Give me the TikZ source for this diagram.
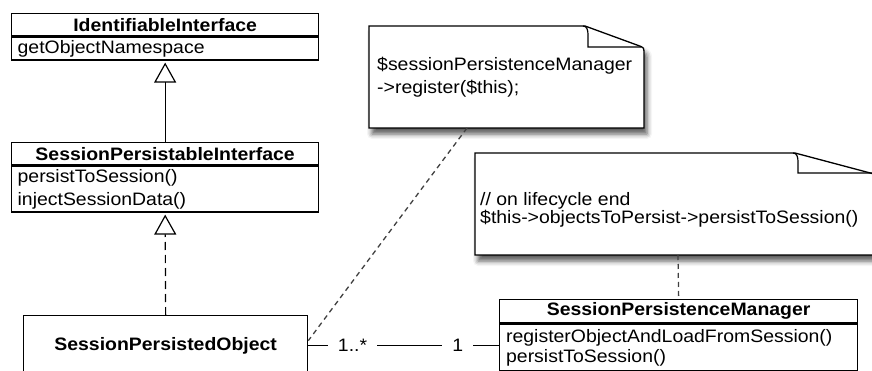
\documentclass[tikz,border=0pt]{standalone}
\usepackage{fontspec}
\setmainfont{Liberation Sans}[FakeStretch=1.08]
\usetikzlibrary{arrows.meta,shadows.blur}
\pgfdeclarelayer{background}
\pgfsetlayers{background,main}
\begin{document}
\begin{tikzpicture}[x=1pt,y=-1pt,
  every node/.style={font=\fontsize{18pt}{20pt}\selectfont},
  shad/.style={blur shadow={shadow xshift=3pt,shadow yshift=-6pt,shadow blur radius=5pt,shadow opacity=65}},
  hdr/.style={draw=black,line width=1.3pt,fill=white,rectangle,anchor=north west,inner sep=0pt,font=\fontsize{18pt}{20pt}\selectfont\bfseries},
  bdy/.style={draw=black,line width=1.3pt,fill=white,rectangle,anchor=north west,inner xsep=6pt,inner ysep=0pt,align=left},
  gen/.style={-{Triangle[open,length=20pt,width=22pt,line width=1.2pt]},line width=1.2pt,shorten >=2pt},
  notebox/.style={fill=white,draw=black,line width=1.3pt,shad},
  notetxt/.style={anchor=west,align=left,inner xsep=0pt},
  notelink/.style={line width=1.3pt,draw=black!75,dash pattern=on 5pt off 4pt},
  mult/.style={fill=white,inner xsep=10pt,inner ysep=1pt}
]
\useasboundingbox (0,0) rectangle (872,371);

% IdentifiableInterface
\node[hdr,minimum width=307pt,minimum height=22pt] (iih) at (11,13) {IdentifiableInterface};
\node[bdy,minimum width=307pt,minimum height=23pt,text width=295pt] (iib) at (iih.south west) {getObjectNamespace};

% SessionPersistableInterface
\node[hdr,minimum width=307pt,minimum height=22pt] (spih) at (11,142) {SessionPersistableInterface};
\node[bdy,minimum width=307pt,minimum height=46pt,text width=295pt,font=\fontsize{18pt}{23pt}\selectfont] (spib) at (spih.south west) {persistToSession()\\injectSessionData()};

% SessionPersistedObject
\node[draw=black,line width=1.3pt,fill=white,anchor=north west,minimum width=284pt,minimum height=60pt,font=\fontsize{18pt}{20pt}\selectfont\bfseries] (spo) at (23,315) {SessionPersistedObject};

% SessionPersistenceManager
\node[hdr,minimum width=358pt,minimum height=23pt] (spmh) at (499,299) {SessionPersistenceManager};
\node[bdy,minimum width=358pt,minimum height=47pt,text width=345pt,inner xsep=6.5pt] (spmb) at (spmh.south west) {registerObjectAndLoadFromSession()\\persistToSession()};

% class shadows
\begin{pgfonlayer}{background}
  \path[shad,fill=white] (iih.north west) rectangle (iib.south east);
  \path[shad,fill=white] (spih.north west) rectangle (spib.south east);
  \path[shad,fill=white] (spo.north west) rectangle (spo.south east);
  \path[shad,fill=white] (spmh.north west) rectangle (spmb.south east);
\end{pgfonlayer}

% Note 1
\path[notebox] (369,26) -- (585,26) -- (641,46.5) .. controls (643.5,47.5) and (644,48.5) .. (644,51) -- (644,128) -- (369,128) -- cycle;
\draw[line width=1.2pt] (583,26) .. controls (587,26) and (588,30) .. (588,35) -- (588,47) -- (641,47);
\node[notetxt,font=\fontsize{18pt}{23pt}\selectfont] (n1) at (377,77) {\$sessionPersistenceManager\\->register(\$this);};
\coordinate (n1b) at (467,128);

% Note 2
\path[notebox] (475,153) -- (795,153) -- (874,174) -- (874,255) -- (475,255) -- cycle;
\draw[line width=1.2pt] (793,153) .. controls (797,153) and (798,157) .. (798,162) -- (798,173) -- (874,173);
\node[notetxt,font=\fontsize{18pt}{18pt}\selectfont] (n2) at (480,210) {// on lifecycle end\\\$this->objectsToPersist->persistToSession()};
\coordinate (n2b) at (678,255);

% generalizations
\draw[gen] (spih.north) -- (iib.south);
\draw[gen,dash pattern=on 8pt off 5pt] (spo.north) -- (spib.south);

% association
\draw[line width=1.2pt] (spo.east) -- node[mult,pos=0.232] (m1) {1..*} node[mult,pos=0.784] (m2) {1} (spmb.west |- spo.east);

% note links
\draw[notelink] (n1b) -- ([yshift=5pt]spo.east);
\draw[notelink] (n2b) -- (spmh.north);
\end{tikzpicture}
\end{document}
